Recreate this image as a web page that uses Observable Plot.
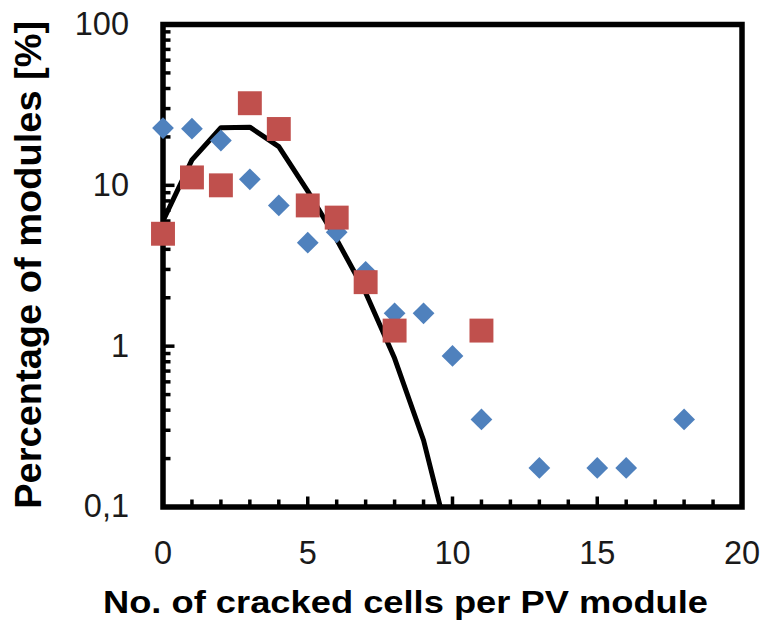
<!DOCTYPE html>
<html>
<head>
<meta charset="utf-8">
<script src="https://cdn.jsdelivr.net/npm/d3@7"></script>
<script src="https://cdn.jsdelivr.net/npm/@observablehq/plot@0.6"></script>
<style>
  html, body { margin: 0; padding: 0; background: #fff; }
</style>
</head>
<body>
<div id="chart"></div>
<script>
// ---- data ----
const blueX = [0, 1, 2, 3, 4, 5, 6, 7, 8, 9, 10, 11, 13, 15, 16, 18];
const blueY = [22.7, 22.5, 19.0, 10.9, 7.5, 4.4, 5.1, 2.9, 1.6, 1.6, 0.87, 0.35, 0.175, 0.175, 0.175, 0.35];

const redX = [0, 1, 2, 3, 4, 5, 6, 7, 8, 11];
const redY = [5.0, 11.2, 10.0, 32.4, 22.4, 7.5, 6.3, 2.5, 1.25, 1.25];

const fitX = [0, 1, 2, 3, 4, 5, 6, 7, 8, 9, 10];
const fitY = [6.0, 14.4, 22.8, 23.0, 17.4, 9.2, 4.6, 2.15, 0.84, 0.26, 0.05];

const xTickValues = [0, 5, 10, 15, 20];
const yTickValues = [0.1, 1, 10, 100];
const yTickLabels = ["0,1", "1", "10", "100"];

const xTitle = "No. of cracked cells per PV module";
const yTitle = "Percentage of modules [%]";

// ---- derived tables ----
const blue = blueX.map((x, i) => ({x, y: blueY[i]}));
const red = redX.map((x, i) => ({x, y: redY[i]}));
const fit = fitX.map((x, i) => ({x, y: fitY[i]}));

const xMinor = d3.range(1, 20).filter(v => v % 5 !== 0);
const xMajor = [5, 10, 15];
const yMinor = [0.1, 1, 10].flatMap(d => d3.range(2, 10).map(k => +(k * d).toPrecision(3)));
const yMajor = [1, 10];

const W = 764, H = 626;
const mL = 162.5, mR = 22.5, mT = 24, mB = 119.5;
const fw = W - mL - mR, fh = H - mT - mB;
const xTitleLen = 605, yTitleLen = 488;

const chart = Plot.plot({
  width: W,
  height: H,
  marginLeft: mL,
  marginRight: mR,
  marginTop: mT,
  marginBottom: mB,
  style: {fontFamily: "'Liberation Sans', Arial, sans-serif", background: "#fff", color: "#111"},
  x: {domain: [0, 20]},
  y: {type: "log", domain: [0.1, 100]},
  marks: [
    Plot.ruleX(xMinor, {x: d => d, insetTop: fh - 7, stroke: "#000", strokeWidth: 3.5}),
    Plot.ruleX(xMajor, {x: d => d, insetTop: fh - 10, stroke: "#000", strokeWidth: 3.5}),
    Plot.ruleY(yMinor, {y: d => d, insetRight: fw - 8, stroke: "#000", strokeWidth: 3.5}),
    Plot.ruleY(yMajor, {y: d => d, insetRight: fw - 12, stroke: "#000", strokeWidth: 3.5}),
    Plot.frame({stroke: "#000", strokeWidth: 5.5}),
    Plot.line(fit, {x: "x", y: "y", stroke: "#000", strokeWidth: 5, clip: true, strokeLinejoin: "round"}),
    Plot.dot(blue, {x: "x", y: "y", symbol: "diamond2", r: 9.8, fill: "#4F81BD", stroke: "none"}),
    Plot.dot(red, {x: "x", y: "y", symbol: "square", r: 13.5, fill: "#C0504D", stroke: "none"}),
    Plot.axisX({ticks: xTickValues, tickSize: 0, tickPadding: 34, fontSize: 32.5, label: null, fill: "#1a1a1a"}),
    Plot.axisY({ticks: yTickValues, tickSize: 0, tickPadding: 34, fontSize: 32.5, label: null, fill: "#1a1a1a",
      tickFormat: d => yTickLabels[yTickValues.indexOf(d)]}),
    Plot.text([xTitle], {frameAnchor: "bottom", dx: -47 - xTitleLen / 2, dy: 96, textAnchor: "start", lineAnchor: "middle", fontSize: 32, fontWeight: "bold", fill: "#000"}),
    Plot.text([yTitle], {frameAnchor: "left", dx: -133.5, dy: yTitleLen / 2 - 1, rotate: -90, textAnchor: "start", lineAnchor: "middle", fontSize: 36, fontWeight: "bold", fill: "#000"})
  ]
});

// stretch the titles to the reference's lengths
chart.querySelectorAll("text").forEach(t => {
  if (t.textContent === xTitle) { t.setAttribute("textLength", xTitleLen); t.setAttribute("lengthAdjust", "spacingAndGlyphs"); }
  if (t.textContent === yTitle) { t.setAttribute("textLength", yTitleLen); t.setAttribute("lengthAdjust", "spacingAndGlyphs"); }
});

document.getElementById("chart").appendChild(chart);
</script>
</body>
</html>
